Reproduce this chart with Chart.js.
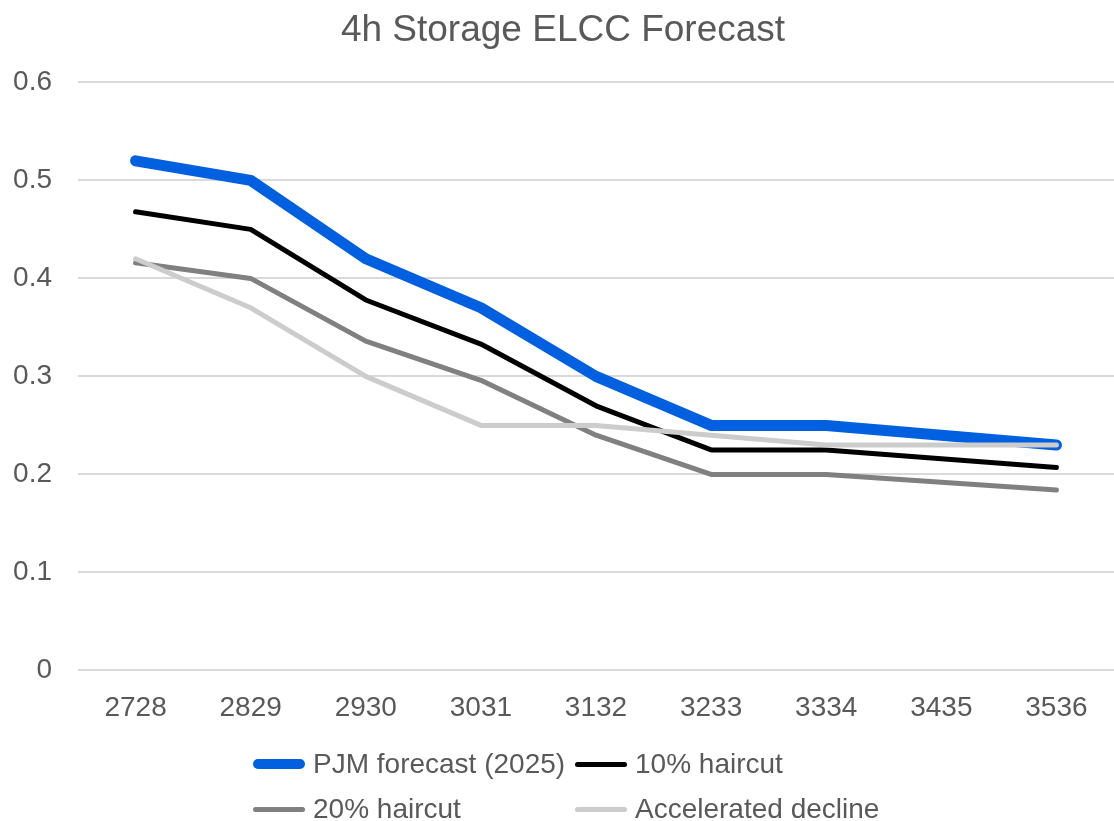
<!DOCTYPE html>
<html>
<head>
<meta charset="utf-8">
<script src="https://cdn.jsdelivr.net/npm/chart.js@4.4.1/dist/chart.umd.min.js"></script>
<style>
  html, body { margin: 0; padding: 0; background: #fff; }
  #wrap { position: relative; width: 1114px; height: 821px; overflow: hidden; }
  #chart { position: absolute; left: 0; top: 0; }
  #legend {
    position: absolute; left: 253px; top: 747px;
    display: grid; grid-template-columns: 322px 322px; row-gap: 11px;
    font-family: "Liberation Sans", Arial, sans-serif; font-size: 28px; color: #595959;
  }
  .item { display: flex; align-items: center; height: 34px; white-space: nowrap; }
  .swatch { display: inline-block; width: 52px; margin-right: 8px; border-radius: 6px; }
</style>
</head>
<body>
<div id="wrap">
  <canvas id="chart" width="1114" height="754"></canvas>
  <div id="legend"></div>
</div>
<script>
  var years = ['2728', '2829', '2930', '3031', '3132', '3233', '3334', '3435', '3536'];
  var pjmForecast = [0.52, 0.50, 0.42, 0.37, 0.30, 0.25, 0.25, 0.24, 0.23];
  var haircut10 = [0.468, 0.45, 0.378, 0.333, 0.27, 0.225, 0.225, 0.216, 0.207];
  var haircut20 = [0.416, 0.40, 0.336, 0.296, 0.24, 0.20, 0.20, 0.192, 0.184];
  var accelerated = [0.42, 0.37, 0.30, 0.25, 0.25, 0.24, 0.23, 0.23, 0.23];

  var seriesNames = ['PJM forecast (2025)', '10% haircut', '20% haircut', 'Accelerated decline'];
  var seriesColors = ['#0060DF', '#000000', '#808080', '#CCCCCC'];
  var seriesWidths = [11, 5, 5, 5];
  var seriesValues = [pjmForecast, haircut10, haircut20, accelerated];

  var textColor = '#595959';
  var fontFamily = '"Liberation Sans", Arial, sans-serif';

  var datasets = [];
  seriesNames.forEach(function (name, i) {
    datasets.push({
      label: name,
      data: seriesValues[i],
      borderColor: seriesColors[i],
      backgroundColor: seriesColors[i],
      borderWidth: seriesWidths[i],
      borderCapStyle: 'round',
      borderJoinStyle: 'round',
      pointRadius: 0,
      tension: 0,
      fill: false,
      order: seriesNames.length - i
    });
  });

  var chart = new Chart(document.getElementById('chart'), {
    type: 'line',
    data: { labels: years, datasets: datasets },
    options: {
      responsive: false,
      animation: false,
      layout: { padding: { left: 12, right: 0, top: 0, bottom: 8 } },
      plugins: {
        legend: { display: false },
        tooltip: { enabled: false },
        title: {
          display: true,
          text: '4h Storage ELCC Forecast',
          color: textColor,
          font: { family: fontFamily, size: 37, weight: 'normal' },
          padding: { top: 9, bottom: 29 }
        }
      },
      scales: {
        x: {
          offset: true,
          grid: { display: false, drawTicks: false },
          border: { display: false },
          ticks: { color: textColor, font: { family: fontFamily, size: 28 }, padding: 21, maxRotation: 0 },
          afterFit: function (scale) {
            scale.paddingLeft = 0;
            scale.paddingRight = 0;
          }
        },
        y: {
          min: 0,
          max: 0.6,
          grid: { color: '#D9D9D9', lineWidth: 2, drawTicks: false },
          border: { display: false },
          ticks: { stepSize: 0.1, color: textColor, font: { family: fontFamily, size: 28 }, padding: 26 },
          afterFit: function (scale) {
            scale.width = 66;
          }
        }
      }
    }
  });

  // legend laid out as a two-column grid like the original
  var legendEl = document.getElementById('legend');
  seriesNames.forEach(function (name, i) {
    var item = document.createElement('div');
    item.className = 'item';
    var swatch = document.createElement('span');
    swatch.className = 'swatch';
    swatch.style.height = Math.min(seriesWidths[i], 10) + 'px';
    swatch.style.background = seriesColors[i];
    item.appendChild(swatch);
    item.appendChild(document.createTextNode(name));
    legendEl.appendChild(item);
  });
</script>
</body>
</html>
